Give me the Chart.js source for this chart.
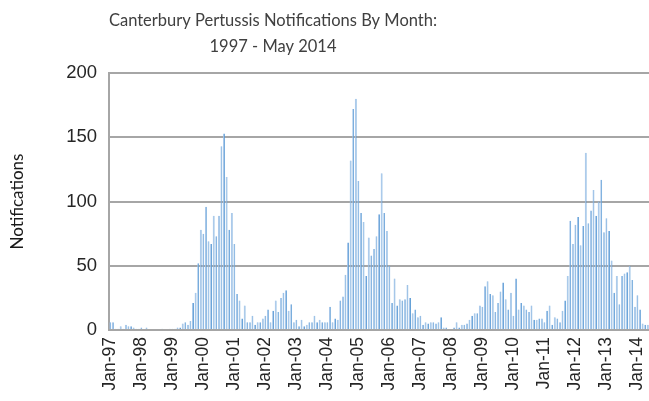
<!DOCTYPE html>
<html lang="en">
<head>
  <meta charset="UTF-8">
  <title>Canterbury Pertussis Notifications By Month</title>
  <script src="https://cdn.jsdelivr.net/npm/chart.js"></script>
  <style>
    * { margin: 0; padding: 0; box-sizing: border-box; }
    body { background: #fff; width: 649px; height: 401px; overflow: hidden; }
    .wrap { position: relative; width: 649px; height: 401px; }
  </style>
</head>
<body>
  <div class="wrap"><canvas id="chart"></canvas></div>

  <script>
    const titleLines = ['Canterbury Pertussis Notifications By Month:', '1997 - May 2014'];
    const yTitle     = 'Notifications';
    const monthNames = ['Jan','Feb','Mar','Apr','May','Jun','Jul','Aug','Sep','Oct','Nov','Dec'];
    const years      = ['97','98','99','00','01','02','03','04','05','06','07','08','09','10','11','12','13','14'];

    // monthly notifications
    const n1997 = [6, 6, 1, 1, 3, 1, 4, 3, 3, 2, 1, 1];
    const n1998 = [2, 0, 2, 0, 0, 0, 0, 0, 1, 0, 0, 1];
    const n1999 = [1, 1, 2, 2, 5, 6, 4, 7, 21, 29, 52, 78];
    const n2000 = [75, 96, 69, 67, 89, 73, 89, 143, 153, 119, 78, 91];
    const n2001 = [67, 28, 23, 9, 19, 6, 6, 11, 4, 6, 6, 9];
    const n2002 = [11, 16, 6, 15, 23, 14, 25, 29, 31, 15, 20, 6];
    const n2003 = [8, 3, 8, 3, 4, 6, 6, 11, 6, 8, 6, 6];
    const n2004 = [6, 18, 6, 9, 8, 23, 26, 43, 68, 132, 172, 180];
    const n2005 = [116, 91, 84, 42, 72, 58, 63, 73, 90, 122, 91, 77];
    const n2006 = [50, 21, 40, 19, 24, 23, 24, 35, 25, 13, 16, 10];
    const n2007 = [11, 4, 6, 5, 6, 6, 5, 6, 10, 2, 2, 0];
    const n2008 = [0, 2, 6, 2, 4, 4, 5, 8, 11, 13, 13, 19];
    const n2009 = [18, 34, 38, 28, 27, 14, 21, 30, 37, 24, 16, 29];
    const n2010 = [11, 40, 16, 21, 19, 16, 14, 19, 8, 8, 9, 9];
    const n2011 = [6, 15, 19, 4, 10, 9, 6, 15, 23, 42, 85, 67];
    const n2012 = [82, 88, 66, 81, 138, 83, 93, 109, 89, 100, 117, 76];
    const n2013 = [87, 77, 54, 29, 42, 20, 42, 44, 45, 50, 39, 18];
    const n2014 = [27, 16, 5, 4, 4];

    const yTicks = [0, 50, 100, 150, 200];

    const series = [n1997, n1998, n1999, n2000, n2001, n2002, n2003, n2004, n2005,
                    n2006, n2007, n2008, n2009, n2010, n2011, n2012, n2013, n2014];
    const labels = [], values = [];
    series.forEach((arr, y) => arr.forEach((v, m) => {
      labels.push(monthNames[m] + '-' + years[y]);
      values.push(v);
    }));

    const GREY = '#a6a6a6';
    const TEXT = '#404040';

    // two-line title, centred where the original sits
    const titlePlugin = {
      id: 'twoLineTitle',
      afterDraw(chart) {
        const ctx = chart.ctx;
        ctx.save();
        ctx.fillStyle = TEXT;
        ctx.font = '16.5px Lato, "Open Sans", sans-serif';
        ctx.textAlign = 'center';
        ctx.textBaseline = 'middle';
        ctx.fillText(titleLines[0], 273, 21);
        ctx.fillText(titleLines[1], 273, 47);
        ctx.restore();
      }
    };

    new Chart(document.getElementById('chart'), {
      type: 'bar',
      data: {
        labels: labels,
        datasets: [{
          data: values,
          backgroundColor: '#9fc2e8',
          borderColor: '#5b9bd5',
          borderWidth: { left: 0, top: 0, bottom: 0, right: 1 },
          borderSkipped: false,
          barPercentage: 0.72,
          categoryPercentage: 1.0
        }]
      },
      options: {
        responsive: true,
        maintainAspectRatio: false,
        animation: false,
        layout: { padding: { top: 73, right: 0, left: 0, bottom: 0 } },
        plugins: {
          legend: { display: false },
          title: { display: false },
          tooltip: { enabled: false }
        },
        scales: {
          x: {
            grid: { display: false, drawTicks: false },
            border: { display: true, color: GREY, width: 2 },
            afterFit(scale) {
              scale.height = 71;
              scale.paddingLeft = 0;
              scale.paddingRight = 0;
            },
            ticks: {
              autoSkip: false,
              maxRotation: 90,
              minRotation: 90,
              padding: 7,
              color: '#262626',
              font: { family: '"Liberation Sans", Arial, sans-serif', size: 17.5 },
              callback(val, i) { return i % 12 === 0 ? labels[i] : null; }
            }
          },
          y: {
            min: 0,
            max: 200,
            afterFit(scale) { scale.width = 109; },
            afterBuildTicks(scale) { scale.ticks = yTicks.map(v => ({ value: v })); },
            grid: { color: GREY, lineWidth: 2, drawTicks: false },
            border: { display: true, color: GREY, width: 2 },
            title: {
              display: true,
              text: yTitle,
              color: '#1a1a1a',
              font: { family: 'Lato, "Open Sans", sans-serif', size: 17 },
              padding: { top: 7, bottom: 0 }
            },
            ticks: {
              padding: 12,
              color: '#262626',
              font: { family: '"Liberation Sans", Arial, sans-serif', size: 18.5 }
            }
          }
        }
      },
      plugins: [titlePlugin]
    });
  </script>
</body>
</html>
